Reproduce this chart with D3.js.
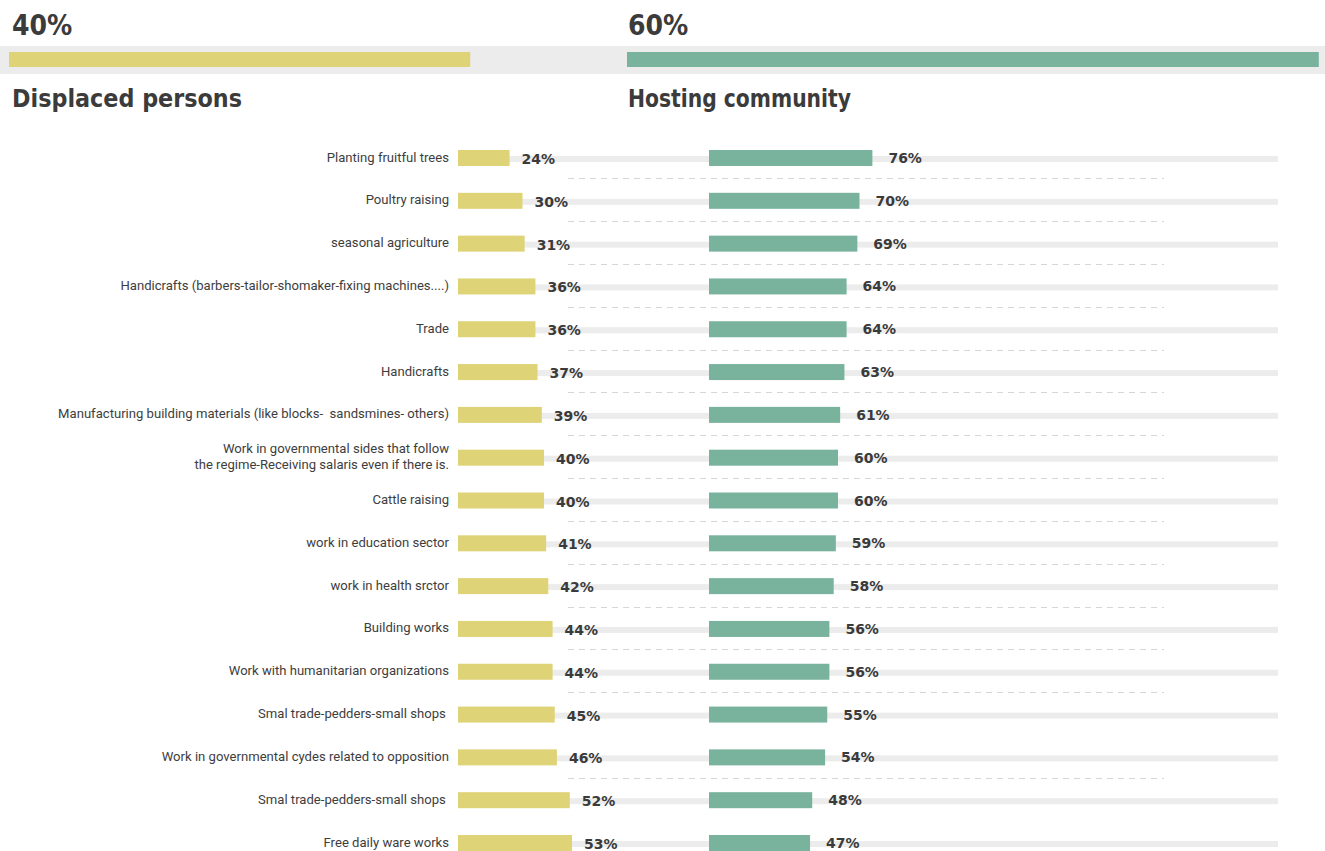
<!DOCTYPE html>
<html>
<head>
<meta charset="utf-8">
<script src="https://cdn.jsdelivr.net/npm/d3@7"></script>
<style>
  html, body { margin: 0; padding: 0; background: #fff; }
  svg { display: block; }
  .head { font-family: "DejaVu Sans Condensed", "DejaVu Sans", sans-serif; font-stretch: condensed; font-weight: bold; fill: #3b3b3b; }
  .cat { font-family: Roboto, "Liberation Sans", sans-serif; font-size: 13.1px; fill: #3d3d3d; white-space: pre; }
  .val { font-family: "DejaVu Sans", sans-serif; font-weight: bold; font-size: 14px; fill: #3a3a3a; }
</style>
</head>
<body>
<svg id="chart" width="1325" height="851"></svg>
<script>
// Overall split between the two groups
const groups = ["Displaced persons", "Hosting community"];
const groupShares = [40, 60];

// Activities and the share of each group per activity
const categories = [
  "Planting fruitful trees",
  "Poultry raising",
  "seasonal agriculture",
  "Handicrafts (barbers-tailor-shomaker-fixing machines....)",
  "Trade",
  "Handicrafts",
  "Manufacturing building materials (like blocks-  sandsmines- others)",
  "Work in governmental sides that follow\nthe regime-Receiving salaris even if there is.",
  "Cattle raising",
  "work in education sector",
  "work in health srctor",
  "Building works",
  "Work with humanitarian organizations",
  "Smal trade-pedders-small shops ",
  "Work in governmental cydes related to opposition",
  "Smal trade-pedders-small shops ",
  "Free daily ware works"
];
const displaced = [24, 30, 31, 36, 36, 37, 39, 40, 40, 41, 42, 44, 44, 45, 46, 52, 53];
const hosting   = [76, 70, 69, 64, 64, 63, 61, 60, 60, 59, 58, 56, 56, 55, 54, 48, 47];

// Rows followed by a dashed divider
const dividerAfter = [0, 1, 2, 3, 4, 5, 6, 7, 8, 9, 10, 11, 12, 14];

const colors = { displaced: "#ded377", hosting: "#79b39d", track: "#ececec", rule: "#d6d6d6" };

const svg = d3.select("#chart");
const W = 1325;

// ---- Header: overall split ----
const xTop = d3.scaleLinear().domain([0, 100]).range([0, 1153]);
const headX = [9, 627];
const headTextX = [12, 628];

svg.append("rect").attr("x", 0).attr("y", 46).attr("width", W).attr("height", 28).attr("fill", colors.track);

groupShares.forEach((v, i) => {
  svg.append("rect")
    .attr("x", headX[i]).attr("y", 52)
    .attr("width", xTop(v)).attr("height", 15)
    .attr("fill", i === 0 ? colors.displaced : colors.hosting);
  svg.append("text").attr("class", "head")
    .attr("x", headTextX[i]).attr("y", 35)
    .attr("font-size", 28)
    .text(v + "%");
});

const titleWidths = [230, 223];
groups.forEach((g, i) => {
  svg.append("text").attr("class", "head")
    .attr("x", headTextX[i]).attr("y", 107)
    .attr("font-size", 25)
    .attr("textLength", titleWidths[i])
    .attr("lengthAdjust", "spacingAndGlyphs")
    .text(g);
});

// ---- Rows ----
const idx = d3.range(categories.length);
const y = d3.scalePoint().domain(idx).range([157, 842]);
const step = y.step();
const x = d3.scaleLinear().domain([0, 100]).range([0, 215]);

const leftX = 458, rightX = 709, trackEnd = 1278;
const barH = 16, trackH = 6;

const rows = svg.append("g");

// background tracks
rows.selectAll("rect.track").data(idx).join("rect")
  .attr("class", "track")
  .attr("x", leftX).attr("y", d => y(d) + 2 - trackH / 2)
  .attr("width", trackEnd - leftX).attr("height", trackH)
  .attr("fill", colors.track);

// dashed dividers
rows.selectAll("line.rule").data(dividerAfter).join("line")
  .attr("class", "rule")
  .attr("x1", 568).attr("x2", 1164)
  .attr("y1", d => Math.round(y(d) + step / 2) + 0.5)
  .attr("y2", d => Math.round(y(d) + step / 2) + 0.5)
  .attr("stroke", colors.rule).attr("stroke-width", 1)
  .attr("stroke-dasharray", "6,5");

// displaced bars
rows.selectAll("rect.dp").data(idx).join("rect")
  .attr("class", "dp")
  .attr("x", leftX).attr("y", d => y(d) - barH / 2 + 1)
  .attr("width", d => x(displaced[d])).attr("height", barH)
  .attr("fill", colors.displaced);

// hosting bars
rows.selectAll("rect.hc").data(idx).join("rect")
  .attr("class", "hc")
  .attr("x", rightX).attr("y", d => y(d) - barH / 2 + 1)
  .attr("width", d => x(hosting[d])).attr("height", barH)
  .attr("fill", colors.hosting);

// value labels
rows.selectAll("text.dv").data(idx).join("text")
  .attr("class", "val dv")
  .attr("x", d => leftX + x(displaced[d]) + 12)
  .attr("y", d => y(d) + 7)
  .text(d => displaced[d] + "%");

rows.selectAll("text.hv").data(idx).join("text")
  .attr("class", "val hv")
  .attr("x", d => rightX + x(hosting[d]) + 16)
  .attr("y", d => y(d) + 6)
  .text(d => hosting[d] + "%");

// category labels (may wrap onto two lines)
rows.selectAll("text.cat").data(idx).join("text")
  .attr("class", "cat")
  .attr("text-anchor", "end")
  .attr("x", 449)
  .attr("y", d => y(d))
  .each(function (d) {
    const lines = categories[d].split("\n");
    const t = d3.select(this);
    lines.forEach((ln, k) => {
      t.append("tspan")
        .attr("x", 449)
        .attr("dy", k === 0 ? ((-(lines.length - 1) * 16) / 2 + 4.5) : 16)
        .text(ln);
    });
  });
</script>
</body>
</html>
